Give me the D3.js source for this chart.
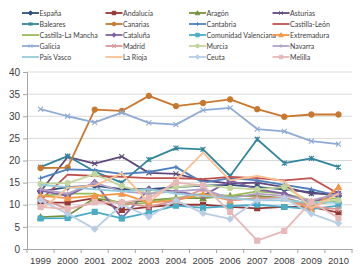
<!DOCTYPE html>
<html>
<head>
<meta charset="utf-8">
<script src="https://cdn.jsdelivr.net/npm/d3@7"></script>
<style>
  body { margin: 0; background: #fff; }
  svg { display: block; font-family: Lato, "Open Sans", sans-serif; }
</style>
</head>
<body>
<svg></svg>
<script>
const svgWidth = 363
const svgHeight = 276
const margins = { top: 72, bottom: 27, left: 27, right: 11 }
const plotWidth = svgWidth - margins.left - margins.right
const plotHeight = svgHeight - margins.top - margins.bottom

// data
const years = ["1999", "2000", "2001", "2002", "2003", "2004", "2005", "2006", "2007", "2008", "2009", "2010"]
const regions = ["España", "Andalucía", "Aragón", "Asturias", "Baleares", "Canarias", "Cantabria",
  "Castilla-León", "Castilla-La Mancha", "Cataluña", "Comunidad Valenciana", "Extremadura",
  "Galicia", "Madrid", "Murcia", "Navarra", "País Vasco", "La Rioja", "Ceuta", "Melilla"]
const yTicks = [0, 5, 10, 15, 20, 25, 30, 35, 40]

const espana = [13.0, 14.0, 14.3, 13.5, 13.5, 14.0, 14.3, 14.5, 14.0, 13.5, 12.8, 12.0]
const andalucia = [10.5, 10.5, 11.5, 8.8, 9.5, 10.0, 10.0, 9.5, 9.2, 9.5, 9.5, 8.2]
const aragon = [7.2, 7.5, 11.5, 10.5, 11.0, 11.5, 11.5, 12.0, 12.0, 11.5, 10.0, 11.0]
const asturias = [13.0, 20.8, 19.3, 20.9, 17.2, 17.0, 15.5, 14.8, 15.0, 14.0, 12.5, 12.5]
const baleares = [18.5, 21.0, 17.5, 15.0, 20.2, 22.8, 22.5, 16.5, 24.8, 19.4, 20.5, 18.5]
const canarias = [18.3, 18.4, 31.5, 31.2, 34.6, 32.3, 33.0, 33.8, 31.6, 29.9, 30.4, 30.4]
const cantabria = [16.0, 18.0, 17.8, 17.0, 17.4, 18.5, 15.0, 16.0, 15.5, 14.5, 13.5, 12.0]
const castillaLeon = [11.0, 16.8, 16.5, 16.3, 16.0, 16.0, 15.8, 16.3, 16.0, 15.5, 16.0, 12.5]
const castillaLaMancha = [12.0, 12.5, 12.5, 10.0, 10.5, 11.5, 12.5, 12.0, 13.0, 12.5, 11.0, 11.5]
const cataluna = [13.2, 12.0, 15.0, 7.0, 13.5, 13.0, 12.0, 15.5, 13.5, 12.5, 10.5, 12.5]
const comunidadValenciana = [6.9, 7.0, 8.4, 6.9, 8.2, 9.8, 9.3, 9.7, 10.0, 9.5, 9.0, 9.8]
const extremadura = [12.0, 11.5, 12.0, 12.5, 10.5, 11.0, 12.4, 11.0, 11.5, 11.5, 9.0, 14.0]
const galicia = [31.6, 30.0, 28.6, 30.8, 28.5, 28.1, 31.4, 31.9, 27.1, 26.6, 24.4, 23.7]
const madrid = [11.5, 9.0, 10.5, 10.5, 9.5, 11.0, 13.5, 11.0, 11.5, 11.5, 9.5, 9.0]
const murcia = [14.7, 14.9, 16.9, 14.2, 12.5, 14.0, 14.5, 13.8, 13.5, 14.0, 10.5, 11.0]
const navarra = [13.5, 12.5, 15.0, 13.0, 12.5, 13.0, 13.5, 11.5, 12.5, 12.0, 11.0, 12.5]
const paisVasco = [14.5, 14.0, 13.5, 13.0, 13.5, 12.5, 12.0, 11.5, 11.0, 11.0, 10.5, 10.5]
const laRioja = [8.8, 13.8, 14.3, 17.1, 10.5, 15.5, 21.8, 15.5, 16.5, 15.3, 9.2, 12.5]
const ceuta = [11.0, 8.0, 4.5, 10.0, 7.3, 11.0, 8.1, 6.8, 11.0, 11.5, 8.0, 5.8]
const melilla = [9.5, 9.0, 10.6, 10.5, 11.5, 15.0, 14.4, 8.4, 1.9, 4.1, 10.7, 7.0]

const seriesValues = [espana, andalucia, aragon, asturias, baleares, canarias, cantabria,
  castillaLeon, castillaLaMancha, cataluna, comunidadValenciana, extremadura,
  galicia, madrid, murcia, navarra, paisVasco, laRioja, ceuta, melilla]

// styles (excel 2007 palette)
const colors = ["#2c5183", "#953735", "#77933c", "#5f497a", "#31859c", "#c8782e", "#4f81bd",
  "#c0504d", "#9bbb59", "#8064a2", "#4bacc6", "#f79646",
  "#8eaad6", "#d99694", "#c3d69b", "#b3a2c7", "#93cddd", "#fac090", "#b9cde5", "#e6b9b8"]
const markers = ["diamond", "square", "triangle", "x", "star", "circle", "plus", "none", "none",
  "diamond", "square", "triangle", "x", "star", "circle", "plus", "none", "none", "diamond", "square"]

function markerPath(type, s) {
  const h = s / 2
  if (type === "diamond") return `M0,${-h - 0.5}L${h + 0.5},0L0,${h + 0.5}L${-h - 0.5},0Z`
  if (type === "square") return `M${-h},${-h}H${h}V${h}H${-h}Z`
  if (type === "triangle") return `M0,${-h - 0.5}L${h + 0.5},${h}L${-h - 0.5},${h}Z`
  if (type === "x") return `M${-h},${-h}L${h},${h}M${-h},${h}L${h},${-h}`
  if (type === "star") return `M${-h},${-h}L${h},${h}M${-h},${h}L${h},${-h}M0,${-h}V${h}`
  if (type === "plus") return `M${-h},0H${h}M0,${-h}V${h}`
  if (type === "circle") return d3.symbol(d3.symbolCircle, s * s * 0.85)()
  return ""
}
const filled = (t) => t === "diamond" || t === "square" || t === "triangle" || t === "circle"

const svg = d3.select("svg")
  .attr("width", svgWidth)
  .attr("height", svgHeight)

const xScale = d3.scaleBand()
  .domain(years)
  .range([margins.left, margins.left + plotWidth])
const yScale = d3.scaleLinear()
  .domain([0, 40])
  .range([margins.top + plotHeight, margins.top])

// gridlines
svg.append("g")
  .selectAll("line")
  .data(yTicks.slice(1))
  .enter()
  .append("line")
  .attr("x1", margins.left)
  .attr("x2", margins.left + plotWidth)
  .attr("y1", (d) => yScale(d))
  .attr("y2", (d) => yScale(d))
  .attr("stroke", "#d9d9d9")
  .attr("stroke-width", 1)

const yAxis = svg.append("g")
  .attr("transform", `translate(${margins.left},0)`)
  .call(d3.axisLeft(yScale).tickValues(yTicks).tickSize(4).tickPadding(3))
yAxis.select(".domain").attr("stroke", "#a6a6a6")
yAxis.selectAll(".tick line").attr("stroke", "#a6a6a6")
yAxis.selectAll("text").attr("font-size", 10).attr("fill", "#404040")

const xAxis = svg.append("g")
  .attr("transform", `translate(0,${margins.top + plotHeight})`)
  .call(d3.axisBottom(xScale).tickSize(0).tickPadding(8))
xAxis.select(".domain").attr("stroke", "#a6a6a6")
xAxis.selectAll("text").attr("font-size", 9.5).attr("fill", "#404040")
xAxis.selectAll(".sep")
  .data(d3.range(years.length + 1))
  .enter()
  .append("line")
  .attr("x1", (i) => margins.left + i * xScale.step())
  .attr("x2", (i) => margins.left + i * xScale.step())
  .attr("y1", 0)
  .attr("y2", 4)
  .attr("stroke", "#a6a6a6")

// series
const cx = (i) => xScale(years[i]) + xScale.bandwidth() / 2
const line = d3.line()
  .x((d, i) => cx(i))
  .y((d) => yScale(d))

const seriesGroup = svg.append("g")
seriesValues.forEach((values, index) => {
  const g = seriesGroup.append("g")
  g.append("path")
    .datum(values)
    .attr("d", line)
    .attr("fill", "none")
    .attr("stroke", colors[index])
    .attr("stroke-width", 1.8)
    .attr("stroke-linejoin", "round")
  if (markers[index] !== "none") {
    g.selectAll("path.marker")
      .data(values)
      .enter()
      .append("path")
      .attr("class", "marker")
      .attr("d", markerPath(markers[index], 5))
      .attr("transform", (d, i) => `translate(${cx(i)},${yScale(d)})`)
      .attr("fill", filled(markers[index]) ? colors[index] : "none")
      .attr("stroke", colors[index])
      .attr("stroke-width", 1.1)
  }
})

// legend
const legendGroup = svg.append("g")
const legendItems = legendGroup.selectAll(".legend")
  .data(regions)
  .enter()
  .append("g")
  .attr("transform", (d, i) => `translate(${22 + (i % 4) * 83.5},${13 + Math.floor(i / 4) * 11})`)
legendItems.append("line")
  .attr("x1", 0)
  .attr("x2", 17)
  .attr("stroke", (d, i) => colors[i])
  .attr("stroke-width", 1.8)
legendItems.append("path")
  .attr("d", (d, i) => markerPath(markers[i], 3.5))
  .attr("transform", "translate(8.5,0)")
  .attr("fill", (d, i) => filled(markers[i]) ? colors[i] : "none")
  .attr("stroke", (d, i) => colors[i])
  .attr("stroke-width", 1)
legendItems.append("text")
  .attr("x", 17.5)
  .attr("y", 2.5)
  .attr("font-size", 7)
  .attr("fill", "#404040")
  .text((d) => d)
</script>
</body>
</html>
